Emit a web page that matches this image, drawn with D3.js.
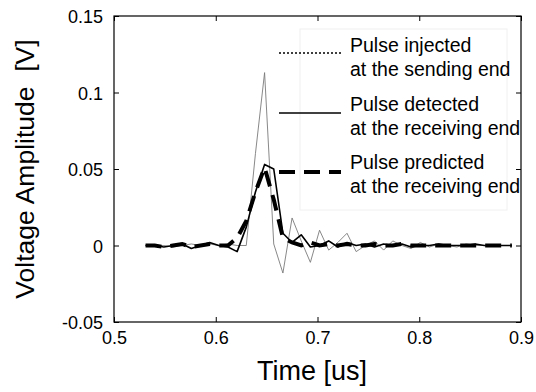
<!DOCTYPE html>
<html>
<head>
<meta charset="utf-8">
<script src="https://cdn.jsdelivr.net/npm/d3@7"></script>
<style>
  body { margin: 0; background: #fff; }
  svg { display: block; font-family: "Liberation Sans", Arial, sans-serif; }
</style>
</head>
<body>
<div id="chart"></div>
<script>
// sample times [us]
var timeVals = [0.531, 0.540, 0.549, 0.558, 0.567, 0.576, 0.585, 0.594, 0.603, 0.612,
                0.621, 0.630, 0.639, 0.648, 0.657, 0.666, 0.675, 0.684, 0.693, 0.702,
                0.711, 0.720, 0.729, 0.738, 0.747, 0.756, 0.765, 0.774, 0.783, 0.792,
                0.801, 0.810, 0.819, 0.828, 0.837, 0.846, 0.855, 0.864, 0.873, 0.882, 0.891];

// pulse injected at the sending end
var injectedVals = [0, 0, 0, -0.001, 0, 0.001, 0, 0.001, 0, 0.001,
                    0, 0, 0.060, 0.113, 0.001, -0.018, 0.018, 0.003, -0.011, 0.010,
                    -0.003, 0.002, 0.008, -0.004, 0, 0.003, -0.003, 0.003, 0, -0.002,
                    0.002, -0.001, 0.001, 0, -0.001, 0.001, 0, 0, 0, 0, 0];

// pulse detected at the receiving end
var detectedVals = [0, 0, -0.001, 0, 0.001, -0.002, 0, 0.002, 0, -0.001,
                    -0.004, 0.012, 0.035, 0.053, 0.050, 0.008, 0.002, 0.007, -0.001, 0,
                    0.003, -0.001, 0.002, 0, 0.001, -0.001, 0.001, 0, 0.001, -0.001,
                    0, 0, 0.001, 0, 0, 0, 0.001, 0, 0, 0, 0];

// pulse predicted at the receiving end
var predictedVals = [0, 0, -0.001, 0, 0.001, -0.001, 0, 0.001, 0, 0,
                     0.005, 0.016, 0.035, 0.051, 0.030, 0.005, 0.002, 0, 0.002, 0,
                     0.001, 0, 0.001, 0, 0, 0.001, 0, 0, 0.001, 0,
                     0, 0, 0, 0, 0, 0, 0, 0, 0, 0, 0];

var xTicks = [0.5, 0.6, 0.7, 0.8, 0.9];
var yTicks = [-0.05, 0, 0.05, 0.1, 0.15];
var xTickLabels = ["0.5", "0.6", "0.7", "0.8", "0.9"];
var yTickLabels = ["-0.05", "0", "0.05", "0.1", "0.15"];

var legendLabels = [["Pulse injected", "at the sending end"],
                    ["Pulse detected", "at the receiving end"],
                    ["Pulse predicted", "at the receiving end"]];

var width = 536, height = 392;
var plot = {left: 114, top: 16, right: 521, bottom: 322};

var svg = d3.select("#chart").append("svg")
    .attr("width", width)
    .attr("height", height);

var xScale = d3.scaleLinear().domain([0.5, 0.9]).range([plot.left, plot.right]);
var yScale = d3.scaleLinear().domain([-0.05, 0.15]).range([plot.bottom, plot.top]);

svg.append("clipPath").attr("id", "plotClip")
  .append("rect")
    .attr("x", plot.left).attr("y", plot.top)
    .attr("width", plot.right - plot.left).attr("height", plot.bottom - plot.top);

// --- AXES --- (ticks inward on all four sides)
svg.append("g")
    .attr("transform", "translate(0," + plot.bottom + ")")
    .call(d3.axisBottom(xScale).tickValues(xTicks).tickSizeInner(-5).tickSizeOuter(0).tickPadding(9)
        .tickFormat(function(d, i){ return xTickLabels[i]; }))
    .call(g => g.select(".domain").remove())
    .call(g => g.selectAll("text").attr("font-size", "18px").attr("fill", "#000").attr("font-family", "Liberation Sans, Arial, sans-serif"));

svg.append("g")
    .attr("transform", "translate(0," + plot.top + ")")
    .call(d3.axisTop(xScale).tickValues(xTicks).tickSizeInner(-5).tickSizeOuter(0).tickFormat(""))
    .call(g => g.select(".domain").remove());

svg.append("g")
    .attr("transform", "translate(" + plot.left + ",0)")
    .call(d3.axisLeft(yScale).tickValues(yTicks).tickSizeInner(-5).tickSizeOuter(0).tickPadding(11)
        .tickFormat(function(d, i){ return yTickLabels[i]; }))
    .call(g => g.select(".domain").remove())
    .call(g => g.selectAll("text").attr("dy", "0.38em").attr("font-size", "18px").attr("fill", "#000").attr("font-family", "Liberation Sans, Arial, sans-serif"));

svg.append("g")
    .attr("transform", "translate(" + plot.right + ",0)")
    .call(d3.axisRight(yScale).tickValues(yTicks).tickSizeInner(-5).tickSizeOuter(0).tickFormat(""))
    .call(g => g.select(".domain").remove());

// legend box (very faint)
svg.append("rect")
    .attr("x", 300).attr("y", 29)
    .attr("width", 207).attr("height", 181)
    .attr("fill", "none")
    .attr("stroke", "#f0f0f0")
    .attr("stroke-width", 1);

// --- LINES ---
var lines = svg.append("g").attr("clip-path", "url(#plotClip)");

function makeLine(vals){
    return d3.line()
        .x(function(d, i){ return xScale(timeVals[i]); })
        .y(function(d){ return yScale(d); })(vals);
}

lines.append("path")
    .attr("d", makeLine(injectedVals))
    .attr("fill", "none")
    .attr("stroke", "#7a7a7a")
    .attr("stroke-width", 0.9);

lines.append("path")
    .attr("d", makeLine(detectedVals))
    .attr("fill", "none")
    .attr("stroke", "#000")
    .attr("stroke-width", 1.6)
    .attr("stroke-linejoin", "round");

lines.append("path")
    .attr("d", makeLine(predictedVals))
    .attr("fill", "none")
    .attr("stroke", "#000")
    .attr("stroke-width", 4)
    .attr("stroke-dasharray", "16,9");

// plot frame
svg.append("rect")
    .attr("x", plot.left).attr("y", plot.top)
    .attr("width", plot.right - plot.left).attr("height", plot.bottom - plot.top)
    .attr("fill", "none")
    .attr("stroke", "#000")
    .attr("stroke-width", 1.2);

// --- LEGEND ---
var legendStyles = [
    {stroke: "#000", width: 1.6, dash: "2,2"},
    {stroke: "#000", width: 1.6, dash: null},
    {stroke: "#000", width: 4, dash: "16,9"}
];
var legendLineY = [53, 113, 172];
var legendTextY = [52, 111, 169];

var legend = svg.append("g").attr("clip-path", "url(#plotClip)");
legendLabels.forEach(function(lbl, i){
    var s = legendStyles[i];
    legend.append("line")
        .attr("x1", 279).attr("x2", 341)
        .attr("y1", legendLineY[i]).attr("y2", legendLineY[i])
        .attr("stroke", s.stroke)
        .attr("stroke-width", s.width)
        .attr("stroke-dasharray", s.dash);
    lbl.forEach(function(t, j){
        legend.append("text")
            .attr("x", 350)
            .attr("y", legendTextY[i] + j * 24)
            .attr("font-size", "19.5px")
            .attr("fill", "#000")
            .text(t);
    });
});

// axis labels
svg.append("text")
    .attr("x", 312)
    .attr("y", 380)
    .attr("text-anchor", "middle")
    .attr("font-size", "27px")
    .attr("fill", "#000")
    .text("Time [us]");

svg.append("text")
    .attr("transform", "translate(34," + ((plot.top + plot.bottom) / 2) + ") rotate(-90)")
    .attr("text-anchor", "middle")
    .attr("font-size", "26.5px")
    .attr("fill", "#000")
    .style("white-space", "pre")
    .text("Voltage Amplitude  [V]");
</script>
</body>
</html>
